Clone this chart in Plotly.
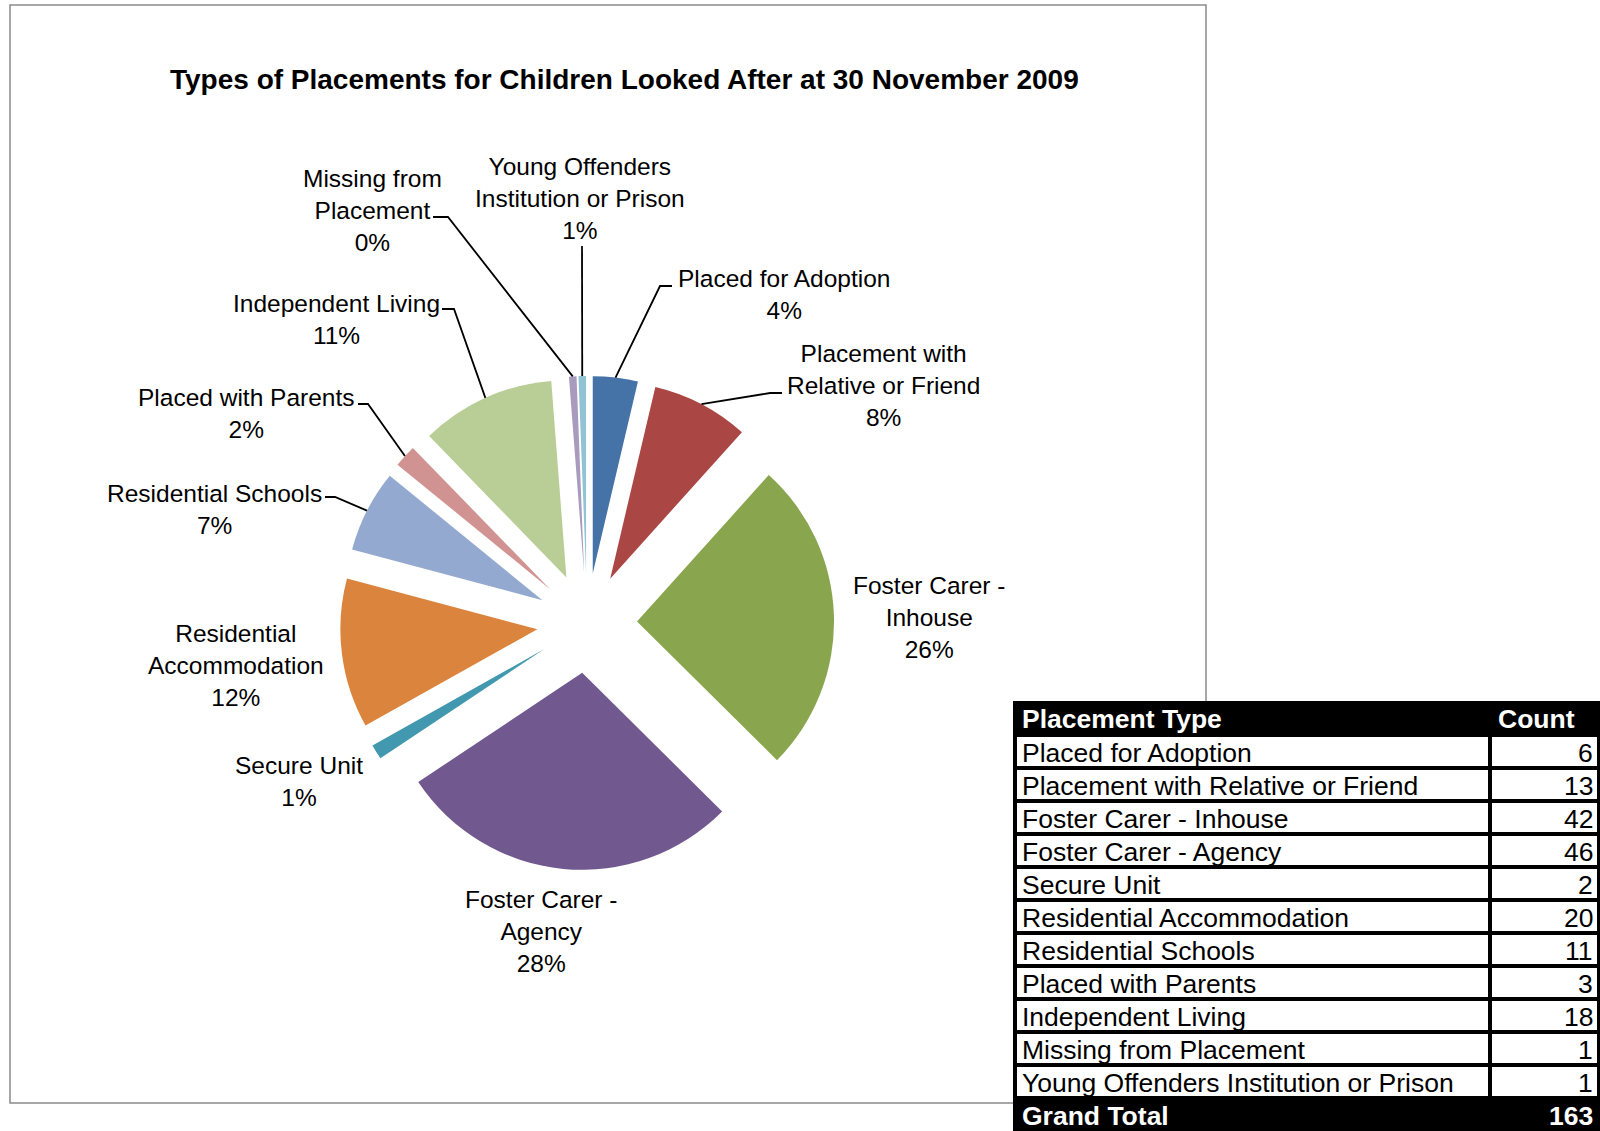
"""Exploded pie of placement types, with the count table beside it."""

import math

import plotly.graph_objects as go

W, H = 1600, 1131
FONT = "Liberation Sans, Arial, sans-serif"

placement_types = [
    "Placed for Adoption",
    "Placement with Relative or Friend",
    "Foster Carer - Inhouse",
    "Foster Carer - Agency",
    "Secure Unit",
    "Residential Accommodation",
    "Residential Schools",
    "Placed with Parents",
    "Independent Living",
    "Missing from Placement",
    "Young Offenders Institution or Prison",
]
counts = [6, 13, 42, 46, 2, 20, 11, 3, 18, 1, 1]
# percentages as printed on the chart (Excel forces them to add up to 100)
shown_pct = [4, 8, 26, 28, 1, 12, 7, 2, 11, 0, 1]
# line breaks used in the chart labels
label_lines = [
    ["Placed for Adoption"],
    ["Placement with", "Relative or Friend"],
    ["Foster Carer -", "Inhouse"],
    ["Foster Carer -", "Agency"],
    ["Secure Unit"],
    ["Residential", "Accommodation"],
    ["Residential Schools"],
    ["Placed with Parents"],
    ["Independent Living"],
    ["Missing from", "Placement"],
    ["Young Offenders", "Institution or Prison"],
]
slice_colors = [
    "#4572A7", "#AA4643", "#89A54E", "#71588F", "#4198AF", "#DB843D",
    "#93A9CF", "#D19392", "#B9CD96", "#A99BBD", "#92C3D4",
]

# layout in pixels
CX, CY, R_PX, PULL = 587, 623, 197, 0.254
label_pos = [
    (784, 295), (883, 386), (929, 617), (541, 931), (299, 781), (236, 665),
    (214, 509), (246, 413), (336, 319), (372, 211), (580, 199),
]
# leader start points (text end, elbow); None = no leader
leaders = [
    [(672, 286), (660, 286)],
    [(782, 393), (770, 393)],
    None, None, None, None,
    [(325, 497), (335, 497)],
    [(358, 404), (368, 404)],
    [(442, 309), (454, 309)],
    [(433, 217), (448, 217)],
    [(582, 246)],
]
TABLE_X0, TABLE_Y0, ROW_H, COL_SPLIT = 1013, 701, 33, 1490
TABLE_FONT = 26.5


def px(x, y):
    return x / W, 1 - y / H


def arc_point(i):
    """Outer-arc midpoint of slice i after it has been pulled out."""
    total = sum(counts)
    ang = math.radians((sum(counts[:i]) + counts[i] / 2) / total * 360)
    reach = R_PX * (1 + PULL)
    return CX + reach * math.sin(ang), CY - reach * math.cos(ang)


half = R_PX * (1 + PULL)
fig = go.Figure(
    go.Pie(
        labels=placement_types,
        values=counts,
        sort=False,
        direction="clockwise",
        rotation=0,
        pull=[PULL] * len(counts),
        marker=dict(colors=slice_colors, line=dict(width=0)),
        textinfo="none",
        hoverinfo="label+value+percent",
        domain=dict(
            x=[(CX - half) / W, (CX + half) / W],
            y=[1 - (CY + half) / H, 1 - (CY - half) / H],
        ),
    )
)

shapes = [
    dict(type="rect", xref="paper", yref="paper",
         x0=10 / W, y0=1 - 1103 / H, x1=1206 / W, y1=1 - 5 / H,
         line=dict(color="#8a8a8a", width=1.5), fillcolor="white", layer="below"),
]
annotations = [
    dict(text="<b>Types of Placements for Children Looked After at 30 November 2009</b>",
         x=624 / W, y=1 - 80 / H, xref="paper", yref="paper",
         xanchor="center", yanchor="middle", showarrow=False,
         font=dict(family=FONT, size=28, color="black")),
]

for i, lines in enumerate(label_lines):
    lx, ly = px(*label_pos[i])
    annotations.append(dict(
        text="<br>".join(lines + [f"{shown_pct[i]}%"]),
        x=lx, y=ly, xref="paper", yref="paper",
        xanchor="center", yanchor="middle", showarrow=False,
        font=dict(family=FONT, size=24.5, color="black"),
    ))
    if leaders[i]:
        pts = [px(*p) for p in leaders[i] + [arc_point(i)]]
        path = "M " + " L ".join(f"{x:.5f},{y:.5f}" for x, y in pts)
        shapes.append(dict(type="path", xref="paper", yref="paper", path=path,
                           line=dict(color="black", width=1.8)))

# count table
table_rows = placement_types + ["Grand Total"]
table_counts = counts + [sum(counts)]
shapes.append(dict(type="rect", xref="paper", yref="paper",
                   x0=TABLE_X0 / W, y0=0, x1=1, y1=1 - TABLE_Y0 / H,
                   line=dict(width=0), fillcolor="black"))
annotations += [
    dict(text="<b>Placement Type</b>", x=(TABLE_X0 + 7) / W,
         y=1 - (TABLE_Y0 + ROW_H / 2 + 1) / H, xanchor="left"),
    dict(text="<b>Count</b>", x=(COL_SPLIT + 6) / W,
         y=1 - (TABLE_Y0 + ROW_H / 2 + 1) / H, xanchor="left"),
]
for annot in annotations[-2:]:
    annot.update(xref="paper", yref="paper", yanchor="middle", showarrow=False,
                 font=dict(family=FONT, size=TABLE_FONT, color="white"))

body_top = TABLE_Y0 + ROW_H + 1
for r, (name, cnt) in enumerate(zip(table_rows, table_counts)):
    top = body_top + r * ROW_H
    last = r == len(table_rows) - 1
    if not last:
        for x0, x1 in [(TABLE_X0 + 4, COL_SPLIT - 2), (COL_SPLIT + 2, W - 3)]:
            shapes.append(dict(type="rect", xref="paper", yref="paper",
                               x0=x0 / W, x1=x1 / W,
                               y0=1 - (top + ROW_H - 2) / H, y1=1 - (top + 2) / H,
                               line=dict(width=0), fillcolor="white"))
    colour = "white" if last else "black"
    yc = 1 - (top + ROW_H / 2 + 1) / H
    fmt = (lambda s: f"<b>{s}</b>") if last else str
    annotations.append(dict(text=fmt(name), x=(TABLE_X0 + 7) / W, y=yc,
                            xref="paper", yref="paper", xanchor="left", yanchor="middle",
                            showarrow=False, font=dict(family=FONT, size=TABLE_FONT, color=colour)))
    annotations.append(dict(text=fmt(cnt), x=(W - 5) / W, y=yc,
                            xref="paper", yref="paper", xanchor="right", yanchor="middle",
                            showarrow=False, font=dict(family=FONT, size=TABLE_FONT, color=colour)))

fig.update_layout(
    width=W,
    height=H,
    margin=dict(l=0, r=0, t=0, b=0),
    paper_bgcolor="white",
    plot_bgcolor="white",
    showlegend=False,
    shapes=shapes,
    annotations=annotations,
)

# drop the browser's default 8px body margin so the figure fills the window
fig.write_html(
    "out.html",
    config={"displayModeBar": False},
    post_script="document.body.style.margin = '0';",
)
